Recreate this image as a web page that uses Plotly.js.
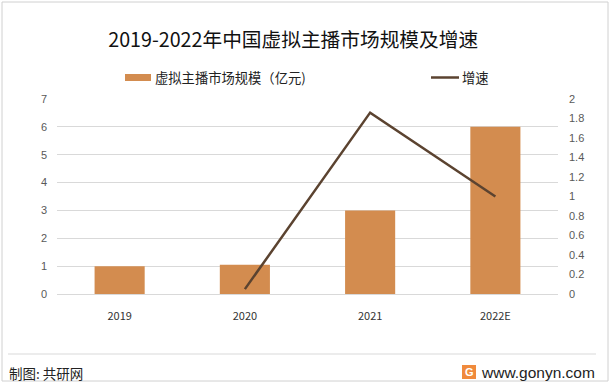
<!DOCTYPE html>
<html><head><meta charset="utf-8">
<script src="https://cdn.plot.ly/plotly-3.0.1.min.js"></script>
<style>html,body{margin:0;padding:0;background:#fff}#c{width:611px;height:383px}</style>
</head><body><div id="c"></div>
<script>
const years = ['2019', '2020', '2021', '2022E'];
const marketSize = [1, 1.05, 3, 6];
const growthRate = [null, 0.05, 1.86, 1.0];
const seriesNames = ['虚拟主播市场规模（亿元)', '增速'];
const titleText = '2019-2022年中国虚拟主播市场规模及增速';
const sourceText = '制图: 共研网';
const siteText = 'www.gonyn.com';

const W = 611, H = 383, L = 57, R = 558, T = 99, B = 294;
const px = x => (x - L) / (R - L);
const py = y => (B - y) / (B - T);
const barColor = '#D38C4F', lineColor = '#5B4330';
const cjk = '"Noto Sans CJK SC", "Microsoft YaHei", sans-serif';

const data = [
  {type: 'bar', x: years, y: marketSize, name: seriesNames[0], marker: {color: barColor}, width: 0.4, showlegend: false, hoverinfo: 'skip'},
  {type: 'scatter', mode: 'lines', x: years, y: growthRate, yaxis: 'y2', name: seriesNames[1], line: {color: lineColor, width: 2.5}, connectgaps: false, showlegend: false, hoverinfo: 'skip'}
];

const layout = {
  width: W, height: H,
  margin: {l: L, r: W - R, t: T, b: H - B, pad: 0},
  paper_bgcolor: '#fff', plot_bgcolor: '#fff',
  showlegend: false,
  bargap: 0.6,
  xaxis: {type: 'category', range: [-0.5, 3.5], showgrid: false, showline: true, linecolor: '#D9D9D9', linewidth: 1, ticks: '', tickfont: {family: cjk, size: 11, color: '#333'}, ticklabelstandoff: 12, fixedrange: true},
  yaxis: {range: [0, 7], dtick: 1, showgrid: true, gridcolor: '#D9D9D9', gridwidth: 1, zeroline: false, showline: false, ticks: '', tickfont: {family: 'Liberation Sans, sans-serif', size: 11, color: '#595959'}, ticklabelstandoff: 9, fixedrange: true},
  yaxis2: {range: [0, 2], dtick: 0.2, overlaying: 'y', side: 'right', showgrid: false, zeroline: false, showline: false, ticks: '', tickfont: {family: 'Liberation Sans, sans-serif', size: 11, color: '#595959'}, ticklabelstandoff: 10, fixedrange: true},
  title: {text: titleText, font: {family: cjk, size: 19.7, color: '#111'}, x: 288 / W, xanchor: 'center', xref: 'paper', y: 1 - 40 / H, yref: 'container', yanchor: 'middle'},
  shapes: [
    {type: 'rect', xref: 'paper', yref: 'paper', x0: px(2), x1: px(608), y0: py(381), y1: py(2), line: {color: '#D0D0D0', width: 1}, fillcolor: 'rgba(0,0,0,0)', layer: 'below'},
    {type: 'rect', xref: 'paper', yref: 'paper', x0: px(125), x1: px(151), y0: py(81), y1: py(74), line: {width: 0}, fillcolor: barColor},
    {type: 'line', xref: 'paper', yref: 'paper', x0: px(431), x1: px(459), y0: py(77.5), y1: py(77.5), line: {color: lineColor, width: 2.5}},
    {type: 'line', xref: 'paper', yref: 'paper', x0: px(8), x1: px(596), y0: py(354), y1: py(354), line: {color: '#D9D9D9', width: 1}},
    {type: 'rect', xref: 'paper', yref: 'paper', x0: px(462), x1: px(476), y0: py(379), y1: py(365), line: {width: 0}, fillcolor: '#F08A3C'}
  ],
  annotations: [
    {xref: 'paper', yref: 'paper', x: px(153), y: py(77.5), xanchor: 'left', yanchor: 'middle', showarrow: false, text: seriesNames[0], font: {family: cjk, size: 13.3, color: '#222'}},
    {xref: 'paper', yref: 'paper', x: px(460), y: py(77.5), xanchor: 'left', yanchor: 'middle', showarrow: false, text: seriesNames[1], font: {family: cjk, size: 13.3, color: '#222'}},
    {xref: 'paper', yref: 'paper', x: px(7), y: py(373), xanchor: 'left', yanchor: 'middle', showarrow: false, text: sourceText, font: {family: cjk, size: 13.5, color: '#222'}},
    {xref: 'paper', yref: 'paper', x: px(469), y: py(372), xanchor: 'center', yanchor: 'middle', showarrow: false, text: '<b>G</b>', font: {family: 'Liberation Sans, sans-serif', size: 11, color: '#fff'}},
    {xref: 'paper', yref: 'paper', x: px(597), y: py(372), xanchor: 'right', yanchor: 'middle', showarrow: false, text: siteText, font: {family: 'Liberation Sans, sans-serif', size: 15.5, color: '#222'}}
  ]
};

Plotly.newPlot('c', data, layout, {staticPlot: true, displayModeBar: false});
</script></body></html>
